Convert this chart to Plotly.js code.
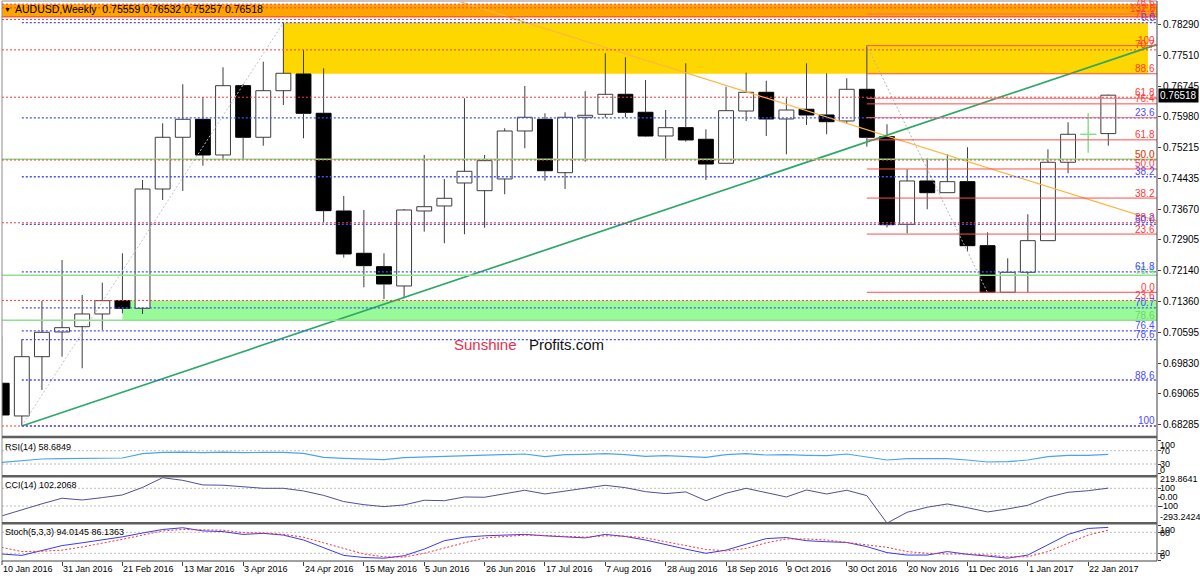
<!DOCTYPE html>
<html>
<head>
<meta charset="utf-8">
<script src="https://cdn.plot.ly/plotly-3.0.1.min.js"></script>
<style>
html,body{margin:0;padding:0;background:#ffffff;}
#chart{width:1200px;height:578px;}
</style>
</head>
<body>
<div id="chart"></div>
<script>
// ================= DATA =================
const weeks = ["2016-01-10","2016-01-17","2016-01-24","2016-01-31","2016-02-07","2016-02-14","2016-02-21","2016-02-28",
"2016-03-06","2016-03-13","2016-03-20","2016-03-27","2016-04-03","2016-04-10","2016-04-17","2016-04-24",
"2016-05-01","2016-05-08","2016-05-15","2016-05-22","2016-05-29","2016-06-05","2016-06-12","2016-06-19","2016-06-26",
"2016-07-03","2016-07-10","2016-07-17","2016-07-24","2016-07-31","2016-08-07","2016-08-14","2016-08-21","2016-08-28",
"2016-09-04","2016-09-11","2016-09-18","2016-09-25","2016-10-02","2016-10-09","2016-10-16","2016-10-23","2016-10-30",
"2016-11-06","2016-11-13","2016-11-20","2016-11-27","2016-12-04","2016-12-11","2016-12-18","2016-12-25",
"2017-01-01","2017-01-08","2017-01-15","2017-01-22","2017-01-29"];

const openP = [0.69326,0.68510,0.69990,0.70607,0.70739,0.71056,0.71388,0.71198,0.74176,0.75467,0.75916,0.75025,0.76755,0.75467,
0.76630,0.77047,0.76066,0.73627,0.72571,0.72237,0.71755,0.73627,0.73752,0.74326,0.74134,0.74426,0.75624,0.75916,0.74583,0.75966,
0.76041,0.76540,0.76091,0.75499,0.75707,0.75417,0.74818,0.76123,0.76590,0.75924,0.76166,0.76024,0.75874,0.76665,0.75482,0.73295,
0.74376,0.74084,0.74359,0.72761,0.71598,0.72097,0.72886,0.74843,0.75542,0.75559];
const highP = [0.70489,0.70424,0.71380,0.72404,0.71530,0.71837,0.72571,0.74401,0.75816,0.76790,0.76465,0.77214,0.76797,0.77354,
0.78328,0.77646,0.77189,0.74002,0.73652,0.72571,0.73677,0.75025,0.74426,0.76440,0.75025,0.75692,0.76748,0.76066,0.76091,0.76618,
0.77564,0.77464,0.76897,0.76148,0.77314,0.75667,0.76730,0.77080,0.76880,0.76440,0.77314,0.77065,0.76940,0.77754,0.75791,0.74668,
0.74943,0.75043,0.75217,0.73095,0.72446,0.73545,0.75167,0.75841,0.76066,0.76532];
const lowP = [0.68490,0.68260,0.69159,0.69990,0.69700,0.70657,0.71073,0.71056,0.73902,0.74126,0.74758,0.74918,0.74918,0.75257,
0.76273,0.75442,0.73345,0.72461,0.71722,0.71430,0.71448,0.73110,0.72821,0.73046,0.73210,0.74044,0.75192,0.74384,0.74176,0.74858,
0.75961,0.75966,0.75482,0.74883,0.75357,0.74401,0.74813,0.75874,0.75499,0.75043,0.75774,0.75542,0.75816,0.75232,0.73215,0.73070,
0.73670,0.74079,0.72611,0.71588,0.71593,0.71598,0.72883,0.74568,0.75082,0.75257];
const closeP = [0.68535,0.69990,0.70599,0.70714,0.71056,0.71388,0.71198,0.74176,0.75467,0.75916,0.75025,0.76755,0.75467,0.76630,
0.77065,0.76066,0.73635,0.72554,0.72262,0.71805,0.73652,0.73734,0.73944,0.74618,0.74883,0.75624,0.75966,0.74633,0.75966,0.76016,
0.76540,0.76091,0.75499,0.75707,0.75400,0.74800,0.76131,0.76590,0.75924,0.76148,0.76024,0.75856,0.76665,0.75467,0.73285,0.74376,
0.74084,0.74359,0.72761,0.71593,0.72097,0.72886,0.74843,0.75542,0.75542,0.76518];

const rsi = [35,40,45,46,46,47,48,61,65,66,64,66,64,65,65,62,50,47,45,43,49,51,52,55,57,59,60,52,58,59,
61,58,53,55,53,50,58,61,57,58,56,55,60,52,42,46,45,46,42,36,37,42,52,56,56,58.6849];
const cci = [-212,-140,-75,-12,-32,-5,25,110,219.86,190,138,135,115,100,100,70,20,-50,-85,-107,-88,-35,-40,2,-1,40,
78,36,70,104,134,107,62,40,59,-40,44,100,50,2,81,36,78,17,-293.24,-171,-114,-77,-119,-167,-133,-92,-1,55,73,102.2068];
const stochMain = [18,14,28,42,50,58,67,78,88,93,84,82,74,77,72,58,35,14,8,6,13,32,56,66,70,72,74,70,67,64,
74,68,58,44,32,20,29,46,62,65,56,53,51,39,22,15,15,25,17,12,6,15,44,74,91,94.0145];
const stochSignal = [37,25,26,29,38,48,60,72,84,88,87,86,79,78,74,66,50,33,18,10,9,20,36,50,64,69,72,71,69,66,
70,69,64,53,42,31,27,34,50,61,61,58,51,45,37,25,20,18,18,15,10,10,25,49,72,86.1363];

const dateTickWeeks = [0,3,6,9,12,15,18,21,24,27,30,33,36,39,42,45,48,51,54];
const dateLabels = ["10 Jan 2016","31 Jan 2016","21 Feb 2016","13 Mar 2016","3 Apr 2016","24 Apr 2016","15 May 2016",
"5 Jun 2016","26 Jun 2016","17 Jul 2016","7 Aug 2016","28 Aug 2016","18 Sep 2016","9 Oct 2016","30 Oct 2016",
"20 Nov 2016","11 Dec 2016","1 Jan 2017","22 Jan 2017"];
const priceTicks = [0.68285,0.69065,0.69830,0.70595,0.71360,0.72140,0.72905,0.73670,0.74435,0.75215,0.75980,0.76745,0.77510,0.78290];

// drawing objects (fibonacci tools, zones, trend lines)
const fibBlueLevels = [0,23.6,38.2,50,61.8,70.7,76.4,78.6,88.6,100];
const fibBlue = {start:1, high:0.78328, low:0.68260};
const fibRedLevels = [0,23.6,38.2,50,61.8,70.7,76.4,78.6];
const fibRed = {low:0.68260, high:0.81540};
const fibALevels = [0,23.6,38.2,50,61.8,76.4,88.6,100];
const fibA = {start:43, low:0.71598, high:0.77754};
const greenLevelPrices = [0.74918,0.72022,0.70899];
const greenLevelLabels = ["50.0","76.4","78.6"];
const extraRedPrices = [0.78545,0.76440,0.75956];
const extraRedLabels = ["132.8","",""];
const orangeZone = [0.78470,0.78790];
const goldZone = {x0:14, x1:56.97, y0:0.77052, y1:0.78328};
const greenZone = {x0:6, y0:0.70899, y1:0.71394};
const greenTrendX = [1,57.4], greenTrendY = [0.68260,0.77780];
const orangeTrendX = [20,57.42], orangeTrendY = [0.79291,0.73377];
const grayLine1X = [1,14], grayLine1Y = [0.68260,0.78328];
const grayLine2X = [43,49], grayLine2Y = [0.77754,0.71588];

const titleText = "AUDUSD,Weekly  0.75559 0.76532 0.75257 0.76518";
const lastPrice = 0.76518;

// ================= LAYOUT HELPERS =================
const H = 578;
const py = px => 1 - px / H;
const X_MIN = 0.015, X_MAX = 57.42;
const xPaper = v => Math.max(0, (v - X_MIN) / (X_MAX - X_MIN));
const FONT = "Liberation Sans, Arial, Helvetica, sans-serif";
const BLUE = "#4b4bff", RED = "#ff3a3a", GREEN_L = "#8fe08f";

const idx = weeks.map((d, i) => i);

// candles
const bull = {x:[], base:[], h:[]}, bear = {x:[], base:[], h:[]};
const dojiX = [], dojiY = [], wickX = [], wickY = [];
idx.forEach(i => {
  const o = openP[i], c = closeP[i], hi = highP[i], lo = lowP[i];
  const top = Math.max(o, c), bot = Math.min(o, c);
  if (c === o) {
    dojiX.push(i, i, null, i - 0.4, i + 0.4, null);
    dojiY.push(hi, lo, null, c, c, null);
    return;
  }
  if (c > o) { bull.x.push(i); bull.base.push(o); bull.h.push(c - o); }
  else { bear.x.push(i); bear.base.push(c); bear.h.push(o - c); }
  wickX.push(i, i, null, i, i, null);
  wickY.push(hi, top, null, bot, lo, null);
});

const traces = [
  {type:"bar", x:bull.x, y:bull.h, base:bull.base, width:0.74,
   marker:{color:"#ffffff", line:{color:"#3c3c3c", width:1}}},
  {type:"bar", x:bear.x, y:bear.h, base:bear.base, width:0.74,
   marker:{color:"#000000", line:{color:"#000000", width:1}}},
  {type:"scatter", mode:"lines", x:wickX, y:wickY, line:{color:"#3c3c3c", width:1}},
  {type:"scatter", mode:"lines", x:dojiX, y:dojiY, line:{color:"#86e086", width:1.5}},
  {type:"scatter", mode:"lines", x:grayLine1X, y:grayLine1Y, line:{color:"#c4c4c4", width:1, dash:"2px,2px"}},
  {type:"scatter", mode:"lines", x:grayLine2X, y:grayLine2Y, line:{color:"#b4b4b4", width:1, dash:"2px,2px"}},
  {type:"scatter", mode:"lines", x:orangeTrendX, y:orangeTrendY, line:{color:"#ffb444", width:1.2}},
  {type:"scatter", mode:"lines", x:greenTrendX, y:greenTrendY, line:{color:"#2ea866", width:1.7}},
  {type:"scatter", mode:"lines", x:idx, y:rsi, yaxis:"y2", line:{color:"#4aa3f2", width:1.2}},
  {type:"scatter", mode:"lines", x:idx, y:cci, yaxis:"y3", line:{color:"#50508f", width:1}},
  {type:"scatter", mode:"lines", x:idx, y:stochMain, yaxis:"y4", line:{color:"#3a3af0", width:1}},
  {type:"scatter", mode:"lines", x:idx, y:stochSignal, yaxis:"y4", line:{color:"#ff3030", width:1, dash:"2px,2px"}}
];
traces.forEach(t => { t.hoverinfo = "skip"; if (!t.xaxis) t.xaxis = "x"; if (!t.yaxis) t.yaxis = "y"; });

// shapes
const shapes = [];
const hline = (x0, x1, y, color, dash, width, layer) => ({type:"line", xref:"x", yref:"y", x0, x1, y0:y, y1:y,
  line:{color, width, dash}, layer:layer || "above"});
const rect = (x0, x1, y0, y1, fill) => ({type:"rect", xref:"x", yref:"y", x0, x1, y0, y1, fillcolor:fill,
  line:{width:0}, layer:"below"});

shapes.push(rect(X_MIN, X_MAX, orangeZone[0], orangeZone[1], "#ffa500"));
shapes.push(rect(goldZone.x0, goldZone.x1, goldZone.y0, goldZone.y1, "#ffd700"));
shapes.push(rect(greenZone.x0, X_MAX, greenZone.y0, greenZone.y1, "#98fb98"));

shapes.push(hline(X_MIN, X_MAX, orangeZone[0] + 0.00002, "#ff3030", "solid", 1));
shapes.push(hline(X_MIN, X_MAX, orangeZone[1], RED, "2px,2px", 1));

const annotations = [];
const fibLabel = (price, text, color) => {
  if (!text) return;
  annotations.push({xref:"paper", x:1, xanchor:"right", xshift:-1, yref:"y", y:price, yanchor:"middle", yshift:5,
    text, showarrow:false, borderpad:0, font:{family:FONT, size:10, color}});
};
const lvlText = l => l === 0 ? "0.0" : (l === 100 ? "100" : l.toFixed(1));

greenLevelPrices.forEach((p, k) => {
  shapes.push(hline(X_MIN, X_MAX, p, GREEN_L, "solid", 1.6));
  fibLabel(p, greenLevelLabels[k], "#6cd46c");
});
fibRedLevels.forEach(l => {
  const p = fibRed.low + l / 100 * (fibRed.high - fibRed.low);
  shapes.push(hline(X_MIN, X_MAX, p, RED, "2px,2px", 1));
  if (l !== 0) fibLabel(p, lvlText(l), RED);
});
fibBlueLevels.forEach(l => {
  const p = fibBlue.high - l / 100 * (fibBlue.high - fibBlue.low);
  shapes.push(hline(fibBlue.start, X_MAX, p, BLUE, "2px,2px", 1.3));
  fibLabel(p, lvlText(l), BLUE);
});
fibALevels.forEach(l => {
  const p = fibA.low + l / 100 * (fibA.high - fibA.low);
  shapes.push(hline(fibA.start, X_MAX, p, "#ff4a4a", "solid", 1));
  fibLabel(p, lvlText(l), RED);
});
extraRedPrices.forEach((p, k) => {
  shapes.push(hline(fibA.start, X_MAX, p, "#ff6a6a", "solid", 1));
  fibLabel(p, extraRedLabels[k], RED);
});

// indicator grid lines
const gridLine = (yref, v) => ({type:"line", xref:"paper", yref, x0:0, x1:1, y0:v, y1:v,
  line:{color:"#bdbdbd", width:1, dash:"2px,2px"}, layer:"below"});
[70, 30].forEach(v => shapes.push(gridLine("y2", v)));
[100, -100].forEach(v => shapes.push(gridLine("y3", v)));
[80, 20].forEach(v => shapes.push(gridLine("y4", v)));

// frame
const pline = (x0, y0, x1, y1, color, width) => ({type:"line", xref:"paper", yref:"paper", x0, y0, x1, y1,
  line:{color, width}, layer:"above"});
shapes.push(pline(0, py(561), 0, py(1), "#8c8c8c", 1));
shapes.push(pline(0, py(1), 1, py(1), "#8c8c8c", 1));
shapes.push(pline(1, py(561), 1, py(1), "#404040", 1));
[437, 476.3, 523.2].forEach(y => shapes.push(pline(0, py(y), 1, py(y), "#5e5e5e", 2.6)));
shapes.push(pline(0, py(561), 1, py(561), "#404040", 1));
// date tick for the first (partly hidden) week
shapes.push({type:"line", xref:"paper", yref:"paper", x0:0, x1:0, y0:py(561), y1:py(565), line:{color:"#404040", width:1}});

// texts
annotations.push({xref:"paper", x:0, xanchor:"left", xshift:1, yref:"paper", y:py(9.5), yanchor:"middle",
  text:"▼", showarrow:false, borderpad:0, font:{family:FONT, size:7, color:"#000"}});
annotations.push({xref:"paper", x:0, xanchor:"left", xshift:12, yref:"paper", y:py(9.5), yanchor:"middle",
  text:titleText, showarrow:false, borderpad:0, font:{family:FONT, size:10.5, color:"#000"}});
annotations.push({xref:"paper", x:1, xanchor:"left", xshift:1, yref:"y", y:lastPrice, yanchor:"middle",
  text:lastPrice.toFixed(5), showarrow:false, borderpad:1, bgcolor:"#000000",
  font:{family:FONT, size:10, color:"#ffffff"}});

const panelTitles = [
  ["RSI(14) " + rsi[rsi.length - 1].toFixed(4), 447],
  ["CCI(14) " + cci[cci.length - 1].toFixed(4), 485],
  ["Stoch(5,3,3) " + stochMain[stochMain.length - 1].toFixed(4) + " " + stochSignal[stochSignal.length - 1].toFixed(4), 531.5]
];
panelTitles.forEach(([t, y]) => annotations.push({xref:"paper", x:0, xanchor:"left", xshift:2, yref:"paper", y:py(y),
  yanchor:"middle", text:t, showarrow:false, borderpad:0, font:{family:FONT, size:9, color:"#000"}}));

const sideLabels = [["100",445],["70",450.7],["30",464],["0",469.5],
  ["219.8641",479],["100",488.3],["0.00",497.3],["-100",506],["-293.2424",517.3],
  ["100",529.5],["80",532.5],["20",553.3],["0",556]];
sideLabels.forEach(([t, y]) => annotations.push({xref:"paper", x:1, xanchor:"left", xshift:2, yref:"paper", y:py(y),
  yanchor:"middle", text:t, showarrow:false, borderpad:0, font:{family:FONT, size:9, color:"#000"}}));

dateTickWeeks.forEach((w, k) => annotations.push({xref:"paper", x:xPaper(w), xanchor:"left", xshift:0, yref:"paper",
  y:py(568.5), yanchor:"middle", text:dateLabels[k], showarrow:false, borderpad:0,
  font:{family:FONT, size:9, color:"#000"}}));

// watermark
annotations.push({xref:"paper", x:(453 - 2) / 1155, xanchor:"left", yref:"paper", y:py(344), yanchor:"middle",
  text:"Sunshine", showarrow:false, borderpad:0, font:{family:FONT, size:15, color:"#e8304a"}});
annotations.push({xref:"paper", x:(528 - 2) / 1155, xanchor:"left", yref:"paper", y:py(344), yanchor:"middle",
  text:"Profits.com", showarrow:false, borderpad:0, font:{family:FONT, size:15, color:"#111111"}});

const axBase = {showgrid:false, zeroline:false, fixedrange:true};
const layout = {
  width:1200, height:578, margin:{l:2, r:43, t:0, b:0}, paper_bgcolor:"#ffffff", plot_bgcolor:"#ffffff",
  showlegend:false, barmode:"overlay", bargap:0,
  font:{family:FONT, size:10, color:"#000"},
  xaxis:Object.assign({}, axBase, {range:[X_MIN, X_MAX], anchor:"y4", showline:false, ticks:"outside", ticklen:4,
    tickcolor:"#404040", tickvals:dateTickWeeks, showticklabels:false}),
  yaxis:Object.assign({}, axBase, {domain:[py(436), py(2)], range:[0.68010, 0.78844], side:"right", anchor:"x",
    ticks:"outside", ticklen:3, tickcolor:"#404040", tickvals:priceTicks, tickformat:".5f",
    tickfont:{family:FONT, size:10, color:"#000"}, showline:false}),
  yaxis2:Object.assign({}, axBase, {domain:[py(475), py(438)], range:[-3.1, 108.2], side:"right", anchor:"x",
    ticks:"outside", ticklen:3, tickcolor:"#404040", tickvals:[0,30,70,100], showticklabels:false}),
  yaxis3:Object.assign({}, axBase, {domain:[py(523), py(477)], range:[-292, 227.7], side:"right", anchor:"x",
    ticks:"outside", ticklen:3, tickcolor:"#404040", tickvals:[-100,0,100], showticklabels:false}),
  yaxis4:Object.assign({}, axBase, {domain:[py(561), py(524)], range:[-2, 103.7], side:"right", anchor:"x",
    ticks:"outside", ticklen:3, tickcolor:"#404040", tickvals:[0,20,80,100], showticklabels:false}),
  shapes, annotations
};

Plotly.newPlot("chart", traces, layout, {staticPlot:true, displayModeBar:false});
</script>
</body>
</html>
